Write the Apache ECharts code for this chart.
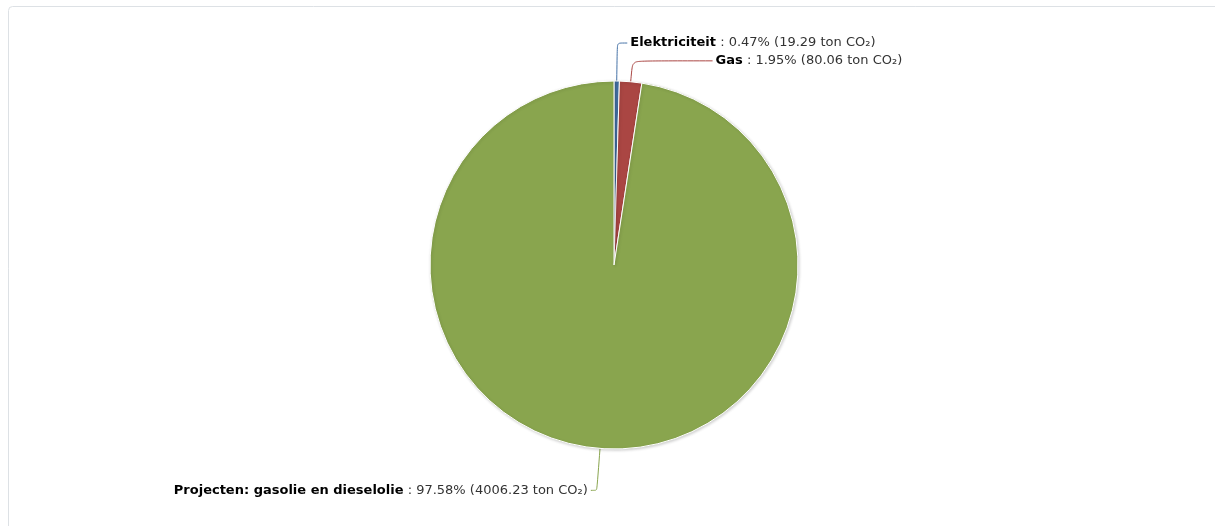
<!DOCTYPE html>
<html>
<head>
<meta charset="utf-8">
<style>
html,body{margin:0;padding:0;background:#fff;}
#chart{width:1215px;height:526px;}
</style>
<script src="https://cdn.jsdelivr.net/npm/echarts@6/dist/echarts.min.js"></script>
</head>
<body>
<div id="chart"></div>
<script>
const categories = ['Elektriciteit', 'Gas', 'Projecten: gasolie en dieselolie'];
const values = [19.29, 80.06, 4006.23];
const colors = ['#4572A7', '#AA4643', '#89A54E'];
const lineLengths = [[38, 10], [21, 80], [42, 6]];

const chart = echarts.init(document.getElementById('chart'), null, {renderer: 'canvas'});
const data = categories.map((c, i) => ({
  name: c,
  value: values[i],
  itemStyle: {color: colors[i]},
  labelLine: {length: lineLengths[i][0], length2: lineLengths[i][1], lineStyle: {color: colors[i]}}
}));

const FONT = '"DejaVu Sans", sans-serif';
chart.setOption({
  animation: false,
  graphic: [{
    type: 'rect',
    shape: {x: 8.5, y: 6.5, width: 1230, height: 540, r: 4},
    style: {fill: '#fff', stroke: '#dde1e5', lineWidth: 1},
    z: -10
  }],
  series: [{
    type: 'pie',
    center: [614, 265],
    radius: 184,
    startAngle: 90,
    clockwise: true,
    avoidLabelOverlap: false,
    itemStyle: {
      borderColor: '#fff', borderWidth: 1,
      shadowBlur: 3, shadowColor: 'rgba(0,0,0,0.18)', shadowOffsetX: 1, shadowOffsetY: 1
    },
    label: {
      show: true,
      fontFamily: FONT,
      fontSize: 13,
      color: '#333',
      distanceToLabelLine: 3,
      formatter: p => '{b|' + p.name + '} : ' + p.percent.toFixed(2) + '% (' + p.value.toFixed(2) + ' ton CO₂)',
      rich: {
        b: {fontWeight: 'bold', color: '#000', fontSize: 13, fontFamily: FONT}
      }
    },
    percentPrecision: 2,
    labelLine: {show: true, smooth: 0.2, lineStyle: {width: 1}},
    emphasis: {disabled: true},
    data: data
  }]
});
</script>
</body>
</html>
